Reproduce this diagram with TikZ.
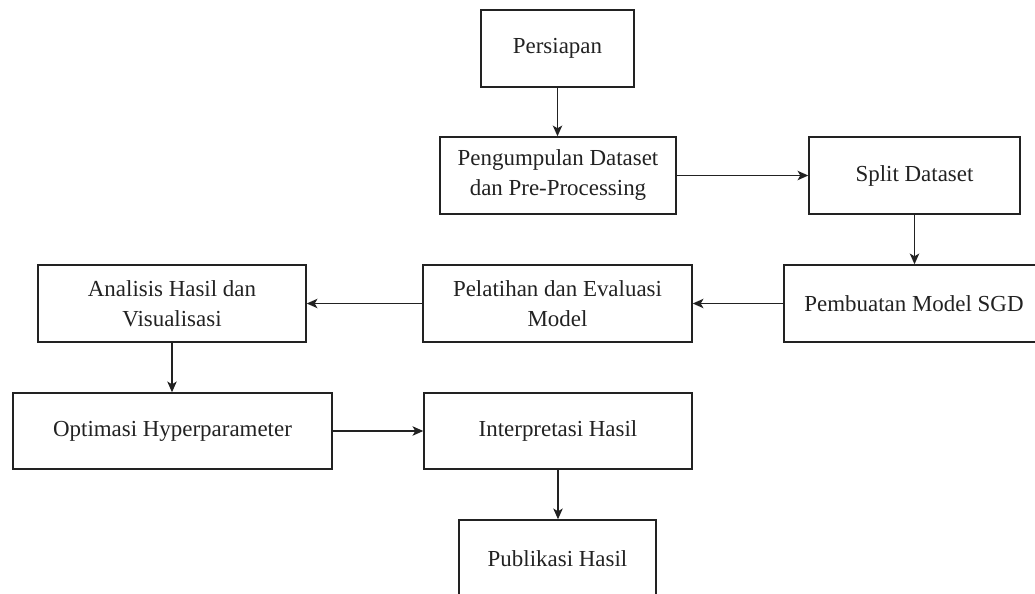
\documentclass[tikz,border=0pt]{standalone}
\usepackage{fontspec}
\setmainfont{Liberation Serif}
\usetikzlibrary{arrows.meta}
\definecolor{ink}{HTML}{222222}
\begin{document}
\begin{tikzpicture}[x=0.75pt,y=-0.75pt,
  box/.style={draw=ink, line width=1.1pt, inner sep=0pt, align=center, text=ink,
    font=\fontsize{17.2}{22.5}\selectfont},
  conn/.style={draw=ink, line width=1.2pt, -{Stealth[length=8pt,width=7pt,inset=2pt]}}]
\useasboundingbox (0,0) rectangle (1035,593);
\clip (0,0) rectangle (1035,593);
\fill[white] (0,0) rectangle (1035,593);
\node[box, minimum width={153*0.75pt}, minimum height={77*0.75pt}] (persiapan) at (557.5,48.5) {Persiapan};
\node[box, minimum width={236*0.75pt}, minimum height={77*0.75pt}] (kumpul) at (558,175.5) {Pengumpulan Dataset\\dan Pre-Processing};
\node[box, minimum width={211*0.75pt}, minimum height={77*0.75pt}] (split) at (914.5,175.5) {Split Dataset};
\node[box, minimum width={260*0.75pt}, minimum height={77*0.75pt}] (sgd) at (914,303.5) {Pembuatan Model SGD};
\node[box, minimum width={269*0.75pt}, minimum height={77*0.75pt}] (latih) at (557.5,303.5) {Pelatihan dan Evaluasi\\Model};
\node[box, minimum width={268*0.75pt}, minimum height={77*0.75pt}] (analisis) at (172,303.5) {Analisis Hasil dan\\Visualisasi};
\node[box, minimum width={319*0.75pt}, minimum height={76*0.75pt}] (optim) at (172.5,431) {Optimasi Hyperparameter};
\node[box, minimum width={268*0.75pt}, minimum height={76*0.75pt}] (interp) at (558,431) {Interpretasi Hasil};
\node[box, minimum width={197*0.75pt}, minimum height={77*0.75pt}] (publik) at (557.5,558.5) {Publikasi Hasil};
\draw[conn] (persiapan.south) -- (persiapan.south |- kumpul.north);
\draw[conn] (kumpul.east) -- (split.west);
\draw[conn] (split.south) -- (split.south |- sgd.north);
\draw[conn] (sgd.west) -- (latih.east);
\draw[conn] (latih.west) -- (analisis.east);
\draw[conn] (analisis.south) -- (analisis.south |- optim.north);
\draw[conn] (optim.east) -- (interp.west);
\draw[conn] (interp.south) -- (interp.south |- publik.north);
\end{tikzpicture}
\end{document}
